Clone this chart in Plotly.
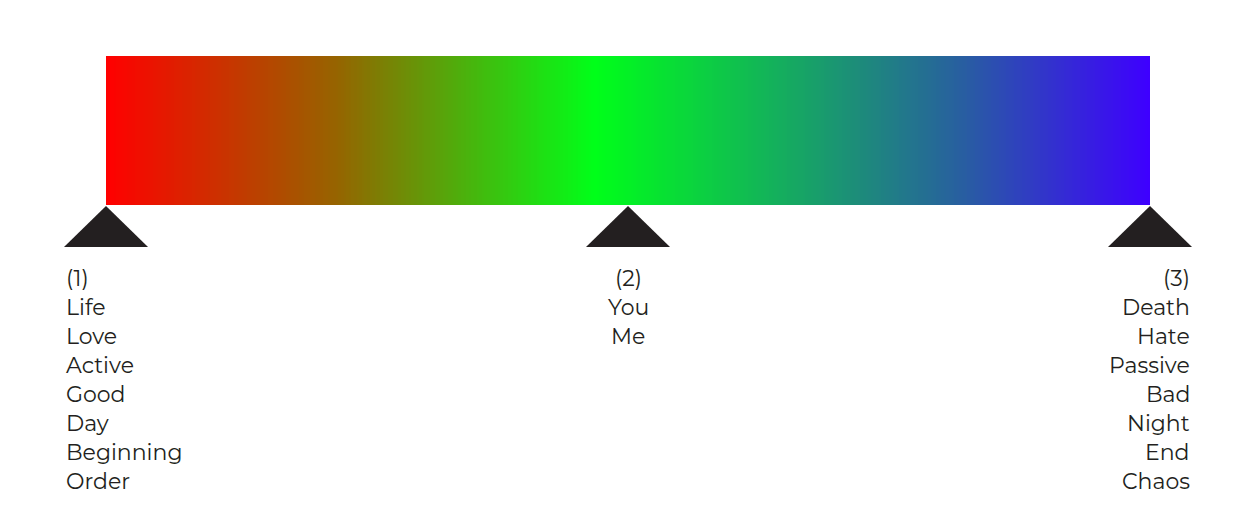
import plotly.graph_objects as go
import numpy as np

# data
positions = [106, 628, 1150]          # pole centres (px space)
labels = [["(1)", "Life", "Love", "Active", "Good", "Day", "Beginning", "Order"],
          ["(2)", "You", "Me"],
          ["(3)", "Death", "Hate", "Passive", "Bad", "Night", "End", "Chaos"]]
aligns = ["left", "center", "right"]
color_stops = [[0, "rgb(255,0,0)"], [0.22, "rgb(150,100,0)"], [0.468, "rgb(0,255,25)"],
               [0.82, "rgb(40,95,160)"], [1, "rgb(62,0,255)"]]

W, H = 1247, 517
OFF = 8  # page body margin
bar_x0, bar_x1, bar_y0, bar_y1 = 106, 1150, 56, 205
fig = go.Figure()
edges = np.linspace(bar_x0, bar_x1, 401)
centers = (edges[:-1] + edges[1:]) / 2
fig.add_trace(go.Heatmap(x=edges, y=[bar_y0, bar_y1], z=[centers], colorscale=color_stops,
                         showscale=False, hoverinfo="skip"))
for p in positions:
    fig.add_trace(go.Scatter(x=[p - 42, p, p + 42, p - 42], y=[247, 206, 247, 247], fill="toself",
                             fillcolor="#231f20", line=dict(color="#231f20", width=0), mode="lines",
                             hoverinfo="skip"))
for p, labs, al in zip(positions, labels, aligns):
    ax = {"left": p - 42, "center": p, "right": p + 42}[al]
    for i, t in enumerate(labs):
        fig.add_annotation(x=ax, y=278 + i * 29, text=t, showarrow=False, xanchor=al, yanchor="middle",
                           font=dict(family="Montserrat, Open Sans, sans-serif", size=22, color="#231f20"))
fig.update_layout(width=W, height=H, margin=dict(l=0, r=0, t=0, b=0), showlegend=False,
                  plot_bgcolor="white", paper_bgcolor="white",
                  xaxis=dict(range=[OFF, W + OFF], visible=False, fixedrange=True),
                  yaxis=dict(range=[H + OFF, OFF], visible=False, fixedrange=True))
fig.write_html("out.html")
